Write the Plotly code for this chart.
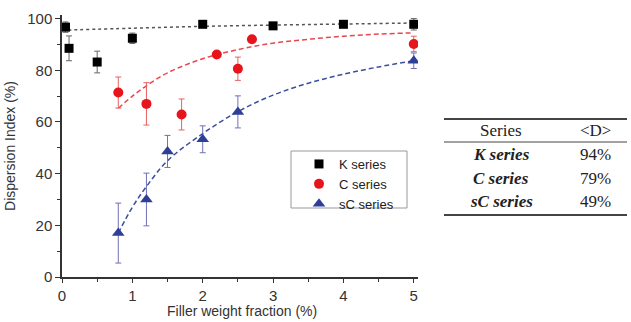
import plotly.graph_objects as go

# ---- data ----
k_x = [0.05, 0.1, 0.5, 1.0, 2.0, 3.0, 4.0, 5.0]
k_y = [96.7, 88.5, 83.2, 92.4, 97.8, 97.2, 97.8, 97.8]
k_err = [2.0, 4.8, 4.2, 2.0, 0.8, 0.8, 0.8, 2.2]

c_x = [0.8, 1.2, 1.7, 2.2, 2.5, 2.7, 5.0]
c_y = [71.4, 67.0, 62.9, 86.1, 80.6, 92.0, 90.2]
c_err = [6.0, 8.2, 6.0, 0.8, 4.5, 0.8, 3.0]

sc_x = [0.8, 1.2, 1.5, 2.0, 2.5, 5.0]
sc_y = [17.0, 30.0, 48.6, 53.3, 63.9, 83.7]
sc_err = [11.6, 10.2, 6.2, 5.2, 6.2, 3.0]

kfit_x = [0.0, 1.0, 2.0, 3.0, 4.0, 5.0]
kfit_y = [95.5, 96.3, 97.0, 97.5, 97.9, 98.3]

cfit_x = [0.8, 1.0, 1.2, 1.5, 2.0, 2.5, 3.0, 3.5, 4.0, 4.5, 5.0]
cfit_y = [65.3, 70.0, 74.0, 79.0, 84.5, 88.0, 90.5, 92.0, 93.2, 94.0, 94.5]

scfit_x = [0.8, 1.0, 1.2, 1.5, 2.0, 2.5, 3.0, 3.5, 4.0, 4.5, 5.0]
scfit_y = [17.0, 27.0, 35.0, 45.0, 55.5, 64.0, 70.4, 75.0, 78.5, 81.3, 83.7]

series_names = ["K series", "C series", "sC series"]
table_rows = ["K series", "C series", "sC series"]
table_vals = ["94%", "79%", "49%"]
x_title = "Filler weight fraction (%)"
y_title = "Dispersion Index (%)"

# ---- figure ----
fig = go.Figure()

fig.add_trace(go.Scatter(x=kfit_x, y=kfit_y, mode="lines", line=dict(color="#555555", width=1.5, dash="3px,3px"),
                         line_shape="spline", showlegend=False, hoverinfo="skip"))
fig.add_trace(go.Scatter(x=cfit_x, y=cfit_y, mode="lines", line=dict(color="#e8474e", width=1.5, dash="5px,3px"),
                         line_shape="spline", showlegend=False, hoverinfo="skip"))
fig.add_trace(go.Scatter(x=scfit_x, y=scfit_y, mode="lines", line=dict(color="#3a4fa0", width=1.5, dash="5px,3px"),
                         line_shape="spline", showlegend=False, hoverinfo="skip"))

fig.add_trace(go.Scatter(x=k_x, y=k_y, mode="markers", name=series_names[0],
                         marker=dict(symbol="square", size=9, color="black"),
                         error_y=dict(type="data", array=k_err, color="#666666", thickness=1, width=3)))
fig.add_trace(go.Scatter(x=c_x, y=c_y, mode="markers", name=series_names[1],
                         marker=dict(symbol="circle", size=10, color="#e8141c"),
                         error_y=dict(type="data", array=c_err, color="#e86060", thickness=1, width=3)))
fig.add_trace(go.Scatter(x=sc_x, y=sc_y, mode="markers", name=series_names[2],
                         marker=dict(symbol="triangle-up", size=11, color="#2e3f99"),
                         error_y=dict(type="data", array=sc_err, color="#7070b8", thickness=1, width=3)))

# plot area pixel geometry
L, R, T, B = 62, 418, 15, 277
W, H = 631, 322

def px(xp):
    return (xp - L) / (R - L)

def py(yp):
    return (B - yp) / (B - T)

axis_font = dict(family="Liberation Sans, Arial", size=15, color="#333333")
title_font = dict(family="Liberation Sans, Arial", size=14, color="#333333")

fig.update_layout(
    width=W, height=H,
    margin=dict(l=L, r=W - R, t=T, b=H - B, autoexpand=False),
    paper_bgcolor="white", plot_bgcolor="white",
    font=dict(family="Liberation Sans, Arial", color="#333333"),
    showlegend=True,
    legend=dict(x=px(299), y=py(149), xanchor="left", yanchor="top",
                borderwidth=0, bgcolor="rgba(0,0,0,0)",
                font=dict(family="Liberation Sans, Arial", size=13, color="#222222"),
                itemwidth=30, tracegroupgap=0),
    xaxis=dict(range=[0, 5.06], showgrid=False, zeroline=False, showline=True, linecolor="#333333", linewidth=1.5,
               ticks="outside", ticklen=4, tickwidth=1.2, tickcolor="#333333", dtick=1, tick0=0,
               minor=dict(ticks="outside", ticklen=3, dtick=0.5, tickcolor="#333333"),
               tickfont=axis_font, automargin=False),
    yaxis=dict(range=[0, 101.4], showgrid=False, zeroline=False, showline=True, linecolor="#333333", linewidth=1.5,
               ticks="outside", ticklen=5, tickwidth=1.2, tickcolor="#333333", dtick=20, tick0=0,
               minor=dict(ticks="outside", ticklen=3, dtick=10, tickcolor="#333333"),
               tickfont=axis_font, automargin=False,
               title=dict(text=y_title, font=title_font, standoff=8)),
)

# x-axis title near the bottom edge, as in the reference
fig.add_annotation(xref="paper", yref="paper", x=px(242), y=py(321), text=x_title, showarrow=False,
                   font=title_font, xanchor="center", yanchor="bottom")

# legend frame
fig.add_shape(type="rect", xref="paper", yref="paper", x0=px(291), x1=px(407), y0=py(208), y1=py(151),
              line=dict(color="#999999", width=1), fillcolor="rgba(0,0,0,0)", layer="below")

# ---- table on the right ----
serif = "Liberation Serif, DejaVu Serif, serif"
line_x0, line_x1 = px(444), px(627)
for yp, w in [(119, 2), (142, 1), (215, 2)]:
    fig.add_shape(type="line", xref="paper", yref="paper", x0=line_x0, x1=line_x1, y0=py(yp), y1=py(yp),
                  line=dict(color="#444444", width=w))

fig.add_annotation(xref="paper", yref="paper", x=px(501), y=py(130), text="Series", showarrow=False,
                   font=dict(family=serif, size=17, color="#222222"), xanchor="center", yanchor="middle")
fig.add_annotation(xref="paper", yref="paper", x=px(595), y=py(130), text="&lt;D&gt;", showarrow=False,
                   font=dict(family=serif, size=17, color="#222222"), xanchor="center", yanchor="middle")
row_y = [154, 178, 201]
for name, val, yp in zip(table_rows, table_vals, row_y):
    fig.add_annotation(xref="paper", yref="paper", x=px(501), y=py(yp), text="<b><i>" + name + "</i></b>",
                       showarrow=False, font=dict(family=serif, size=17, color="#222222"),
                       xanchor="center", yanchor="middle")
    fig.add_annotation(xref="paper", yref="paper", x=px(595), y=py(yp), text=val,
                       showarrow=False, font=dict(family=serif, size=17, color="#222222"),
                       xanchor="center", yanchor="middle")

fig.write_html("out.html")
